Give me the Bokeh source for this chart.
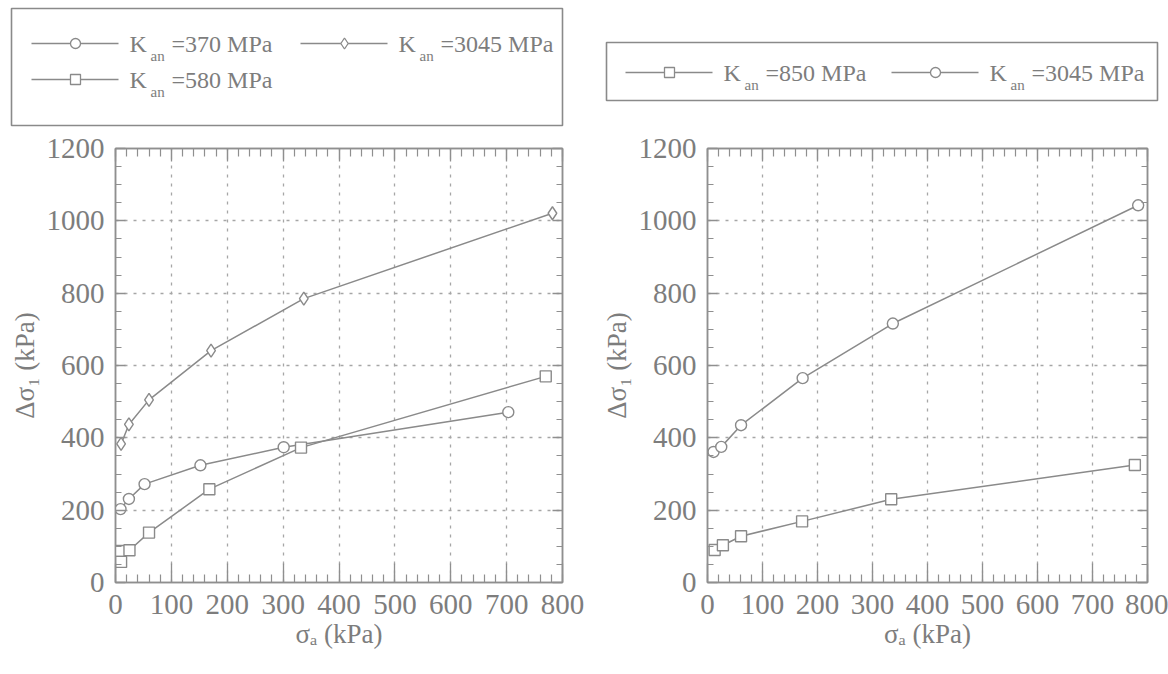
from bokeh.plotting import figure
from bokeh.models import Range1d, LinearAxis, SingleIntervalTicker, CustomJSTickFormatter
from bokeh.layouts import column, row
from bokeh.embed import file_html
from bokeh.resources import INLINE
from bokeh.core.properties import value

# ---------------- data ----------------
left_x_370 = [9, 24, 52, 152, 301, 703]
left_y_370 = [203, 231, 272, 324, 374, 471]
left_x_580 = [7, 10, 25, 60, 168, 332, 770]
left_y_580 = [87, 57, 89, 138, 258, 373, 570]
left_x_3045 = [10, 24, 60, 171, 337, 782]
left_y_3045 = [383, 437, 505, 641, 785, 1021]

right_x_850 = [13, 28, 61, 172, 334, 777]
right_y_850 = [90, 103, 128, 169, 230, 325]
right_x_3045 = [11, 25, 61, 173, 337, 783]
right_y_3045 = [361, 375, 435, 565, 716, 1043]

left_labels = ["=370 MPa", "=3045 MPa", "=580 MPa"]
right_labels = ["=850 MPa", "=3045 MPa"]
x_label = "σₐ (kPa)"
y_label = "Δσ₁ (kPa)"

FONT = "'Liberation Serif', 'Times New Roman', serif"
LINE = "#8a8a8a"
TEXT = "#7d7d7d"
GRID = "#a6a6a6"
W, H = 1168, 674
LEG_H = 130


def style_axis(ax, tick_in, minor_in, labels=True, standoff=6):
    ax.axis_line_color = "#8f8f8f"
    ax.axis_line_width = 1.5
    ax.major_tick_in = tick_in
    ax.major_tick_out = 0
    ax.minor_tick_in = minor_in
    ax.minor_tick_out = 0
    ax.major_tick_line_color = "#8f8f8f"
    ax.minor_tick_line_color = "#8f8f8f"
    ax.major_tick_line_width = 1.3
    ax.minor_tick_line_width = 1.2
    ax.major_label_text_font = FONT
    ax.major_label_text_color = TEXT
    ax.major_label_standoff = standoff
    ax.major_label_text_font_size = "29px"
    if not labels:
        ax.formatter = CustomJSTickFormatter(code="return ''")
    ax.axis_label_text_font = FONT
    ax.axis_label_text_font_style = "normal"
    ax.axis_label_text_font_size = "27px"
    ax.axis_label_text_color = TEXT


def make_plot(width, mbl, mbr):
    p = figure(width=width, height=H - LEG_H, x_range=Range1d(0, 800), y_range=Range1d(0, 1200),
               output_backend="svg", toolbar_location=None,
               min_border_left=mbl, min_border_right=mbr, min_border_top=18,
               min_border_bottom=H - LEG_H - 18 - 434)
    xt = SingleIntervalTicker(interval=100, num_minor_ticks=5)
    yt = SingleIntervalTicker(interval=200, num_minor_ticks=4)
    p.xaxis.ticker = xt
    p.yaxis.ticker = yt
    p.xgrid.ticker = xt
    p.ygrid.ticker = yt
    style_axis(p.xaxis[0], 19, 8, standoff=12)
    style_axis(p.yaxis[0], 10, 6, standoff=11)
    p.xaxis.axis_label = x_label
    p.yaxis.axis_label = y_label
    p.xaxis.axis_label_standoff = 2
    p.yaxis.axis_label_standoff = 4
    top = LinearAxis(ticker=xt)
    style_axis(top, 13, 8, labels=False, standoff=0)
    p.add_layout(top, "above")
    rgt = LinearAxis(ticker=yt)
    style_axis(rgt, 10, 6, labels=False, standoff=0)
    p.add_layout(rgt, "right")
    p.grid.grid_line_color = GRID
    p.grid.grid_line_dash = "3 6"
    p.grid.grid_line_width = 1.3
    p.outline_line_color = "#8f8f8f"
    p.outline_line_width = 1.5
    p.background_fill_color = "white"
    p.border_fill_color = "white"
    return p


def series(p, xs, ys, marker, size):
    p.line(xs, ys, line_color=LINE, line_width=1.5)
    p.scatter(xs, ys, marker=marker, size=size, line_color=LINE, line_width=1.4, fill_color="white")


pl = make_plot(598, 115, 36)
series(pl, left_x_3045, left_y_3045, "diamond", 13)
series(pl, left_x_370, left_y_370, "circle", 11)
series(pl, left_x_580, left_y_580, "square", 11)

pr = make_plot(W - 598, 106, 21)
series(pr, right_x_3045, right_y_3045, "circle", 11)
series(pr, right_x_850, right_y_850, "square", 11)

# ---------------- legends (separate strip above the plots) ----------------
leg = figure(width=W, height=LEG_H, x_range=Range1d(0, W), y_range=Range1d(LEG_H, 0),
             output_backend="svg", toolbar_location=None, min_border=0,
             x_axis_type=None, y_axis_type=None)
leg.grid.visible = False
leg.outline_line_color = None


def legend_box(x0, x1, y0, y1):
    leg.quad(left=[x0], right=[x1], top=[y0], bottom=[y1], fill_color=None,
             line_color="#8a8a8a", line_width=1.6)


def legend_entry(x, y, marker, size, label):
    leg.line([x, x + 87], [y, y], line_color=LINE, line_width=1.5)
    leg.scatter([x + 44], [y], marker=marker, size=size, line_color=LINE, line_width=1.3, fill_color="white")
    leg.text([x + 98], [y], text=["K"], text_font=value(FONT), text_font_size="24px",
             text_color=TEXT, text_baseline="middle")
    leg.text([x + 119], [y + 12], text=["an"], text_font=value(FONT), text_font_size="15px",
             text_color=TEXT, text_baseline="middle")
    leg.text([x + 140], [y], text=[label], text_font=value(FONT), text_font_size="24px",
             text_color=TEXT, text_baseline="middle")


legend_box(11, 562, 8, 125)
legend_entry(31, 43, "circle", 10, left_labels[0])
legend_entry(300, 43, "diamond", 11, left_labels[1])
legend_entry(31, 79, "square", 10, left_labels[2])

legend_box(606, 1157, 42, 100)
legend_entry(625, 72, "square", 10, right_labels[0])
legend_entry(891, 72, "circle", 10, right_labels[1])

layout = column(leg, row(pl, pr))
open("out.html", "w").write(file_html(layout, INLINE))
